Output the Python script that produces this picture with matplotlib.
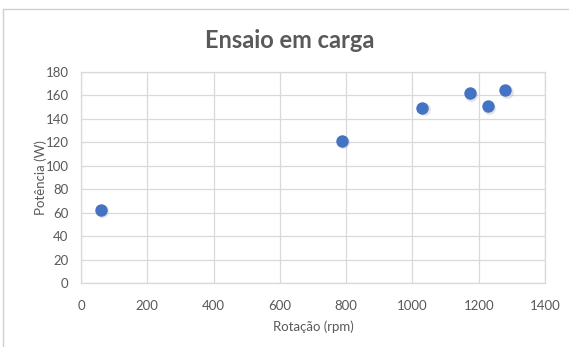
import matplotlib
matplotlib.use('Agg')
import matplotlib.pyplot as plt
from matplotlib.lines import Line2D

# data
rotacao = [60, 788, 1030, 1174, 1228, 1280]
potencia = [62.5, 121.4, 149.7, 162, 151, 164.3]
x_ticks = [0, 200, 400, 600, 800, 1000, 1200, 1400]
y_ticks = [0, 20, 40, 60, 80, 100, 120, 140, 160, 180]

plt.rcParams['font.family'] = ['Lato', 'DejaVu Sans']
text_grey = '#595959'
grid_grey = '#D9D9D9'

fig = plt.figure(figsize=(5.69, 3.47), dpi=100)
fig.patch.set_facecolor('white')

# chart frame (only top and left edges visible in the reference)
fig.add_artist(Line2D([3 / 569, 1], [1 - 9 / 347, 1 - 9 / 347], color='#D0D0D0', lw=1))
fig.add_artist(Line2D([3 / 569, 3 / 569], [0, 1 - 9 / 347], color='#D0D0D0', lw=1))

ax = fig.add_axes([81 / 569, 1 - 283 / 347, 464 / 569, 211 / 347])
ax.set_xlim(0, 1400)
ax.set_ylim(0, 180)
ax.set_xticks(x_ticks)
ax.set_yticks(y_ticks)
ax.grid(True, color=grid_grey, lw=0.9)
ax.set_axisbelow(True)
for s in ax.spines.values():
	s.set_color(grid_grey)
	s.set_linewidth(0.9)
ax.tick_params(length=0, colors=text_grey, labelsize=9.5)
ax.tick_params(axis='x', pad=12)
ax.tick_params(axis='y', pad=9)

# soft shadow then markers
ax.scatter([v + 4 for v in rotacao], [v - 1.5 for v in potencia], s=85, color='#B0B0B0', alpha=0.35, lw=0, zorder=2)
ax.scatter(rotacao, potencia, s=80, color='#4472C4', lw=0, zorder=3)

ax.set_xlabel('Rotação (rpm)', color=text_grey, fontsize=9.5, labelpad=6)
ax.set_ylabel('Potência (W)', color=text_grey, fontsize=9.5, labelpad=-1)
fig.text(290 / 569, 1 - 40 / 347, 'Ensaio em carga', ha='center', va='center', fontsize=17, fontweight='bold', color=text_grey)

fig.savefig('out.png', dpi=100)
